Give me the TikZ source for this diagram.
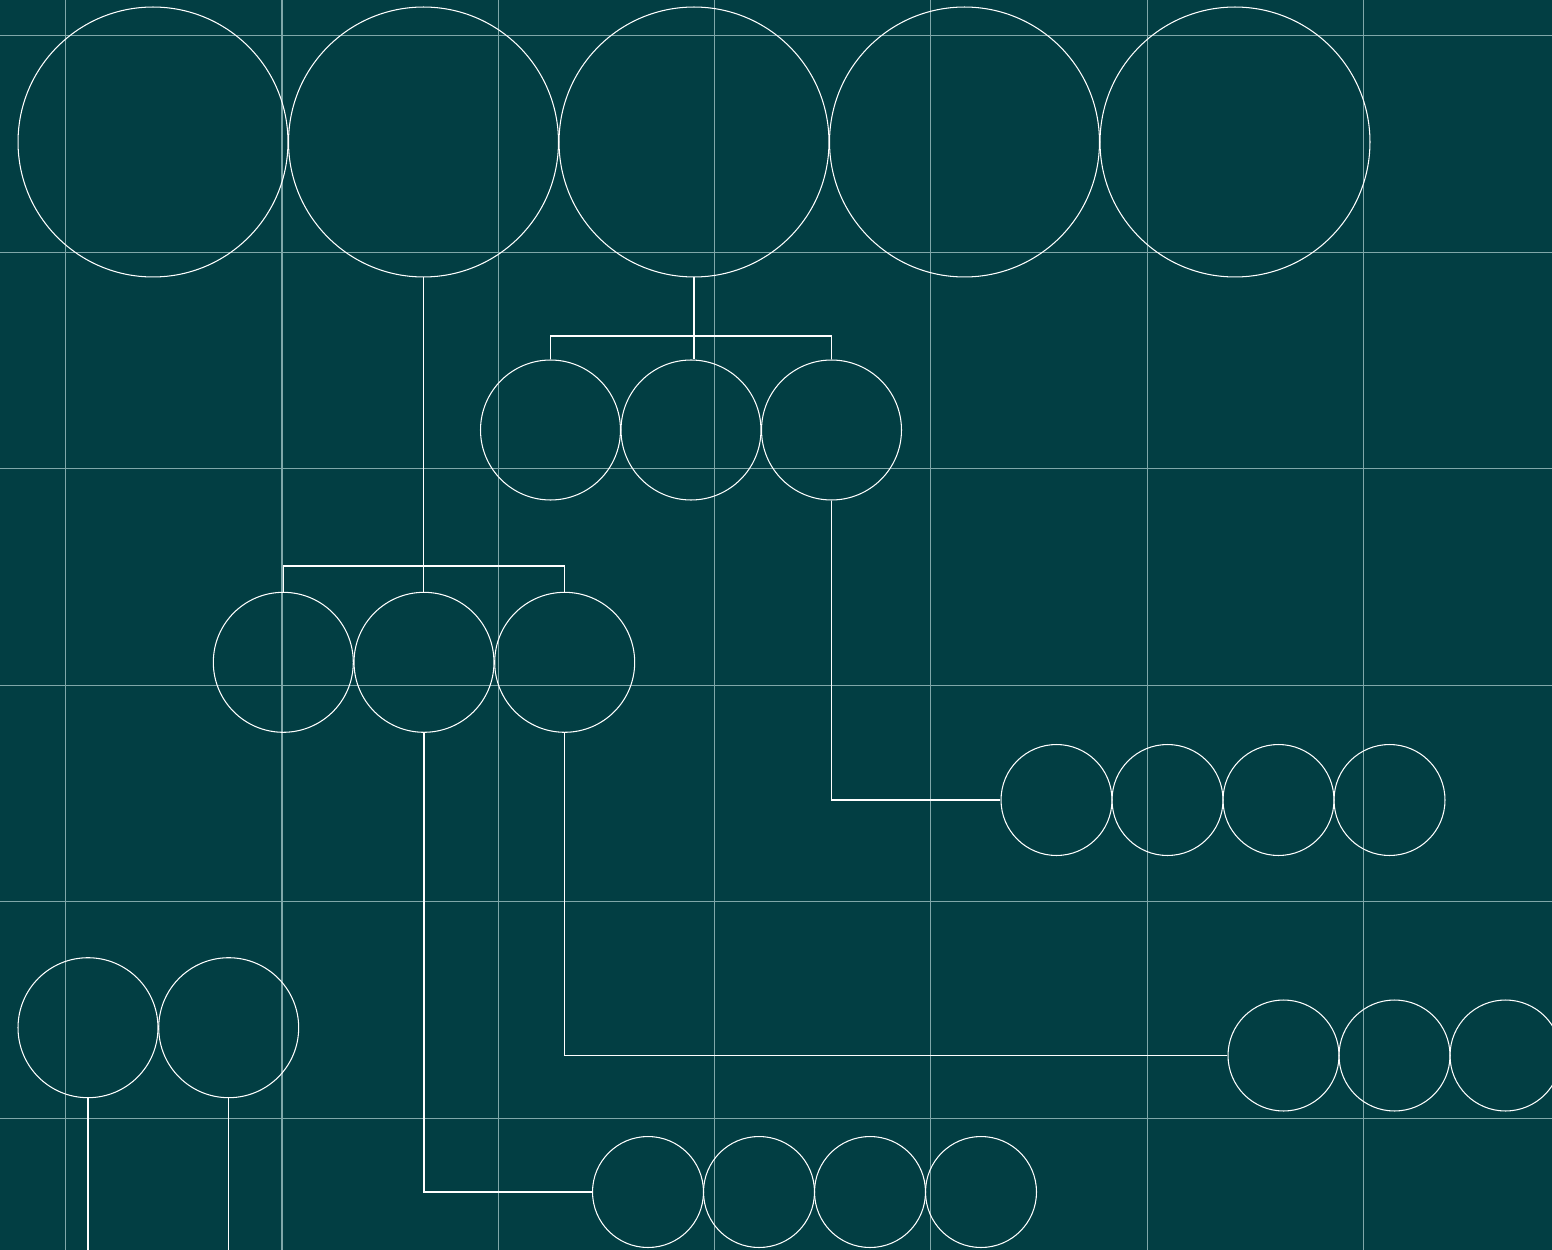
\documentclass[tikz,border=0pt]{standalone}
\usepackage{tikz}
\usetikzlibrary{calc,positioning}
\definecolor{GridBg}{HTML}{023E43}
\definecolor{GridLine}{HTML}{80A7A9}

\begin{document}
\begin{tikzpicture}[x=0.02cm,y=-0.02cm,line width=.6pt,
    ring/.style={circle,draw=white,inner sep=0pt},
    bigring/.style={ring,minimum size=5.4cm},
    midring/.style={ring,minimum size=2.8cm},
    smallring/.style={ring,minimum size=2.22cm},
    wire/.style={draw=white}]
  \clip (0,0) rectangle (1552,1250);
  \fill[GridBg] (0,0) rectangle (1552,1250);
  % grid
  \foreach \k in {0,...,6} {
    \draw[GridLine] ({65.7+216.3*\k},0)--({65.7+216.3*\k},1250);
  }
  \foreach \k in {0,...,5} {
    \draw[GridLine] (0,{35.7+216.5*\k})--(1552,{35.7+216.5*\k});
  }
  % top row
  \foreach \i in {1,...,5} {
    \node[bigring] (b\i) at ({153+270.5*(\i-1)},142) {};
  }
  % first branch
  \foreach \i/\x in {1/550.5,2/691,3/831.5} {
    \node[midring] (m\i) at (\x,430) {};
  }
  \coordinate (j1) at (693,336);
  \draw[wire] (b3.south) -- (b3.south |- m2.north);
  \draw[wire] (m1.north) -- (m1.north |- j1) -- (m3.north |- j1) -- (m3.north);
  % second branch
  \foreach \i/\x in {1/283.3,2/424,3/564.7} {
    \node[midring] (n\i) at (\x,662.3) {};
  }
  \coordinate (j2) at (424,566);
  \draw[wire] (b2.south) -- (b2.south |- n2.north);
  \draw[wire] (n1.north) -- (n1.north |- j2) -- (n3.north |- j2) -- (n3.north);
  % small rows
  \foreach \i in {1,...,4} {
    \node[smallring] (s\i) at ({1056.5+111*(\i-1)},800) {};
    \node[smallring] (u\i) at ({648+111*(\i-1)},1192) {};
  }
  \foreach \i in {1,...,3} {
    \node[smallring] (t\i) at ({1283.5+111*(\i-1)},1055.5) {};
  }
  \draw[wire] (m3.south) |- (s1.west);
  \draw[wire] (n3.south) |- (t1.west);
  \draw[wire] (n2.south) |- (u1.west);
  % bottom left
  \node[midring] (l1) at (88,1027.7) {};
  \node[midring] (l2) at (228.7,1027.7) {};
  \coordinate (e1) at (86.3,1250);
  \coordinate (e2) at (229,1250);
  \draw[wire] (l1.south) -- (l1.south |- e1);
  \draw[wire] (l2.south) -- (l2.south |- e2);
\end{tikzpicture}
\end{document}
